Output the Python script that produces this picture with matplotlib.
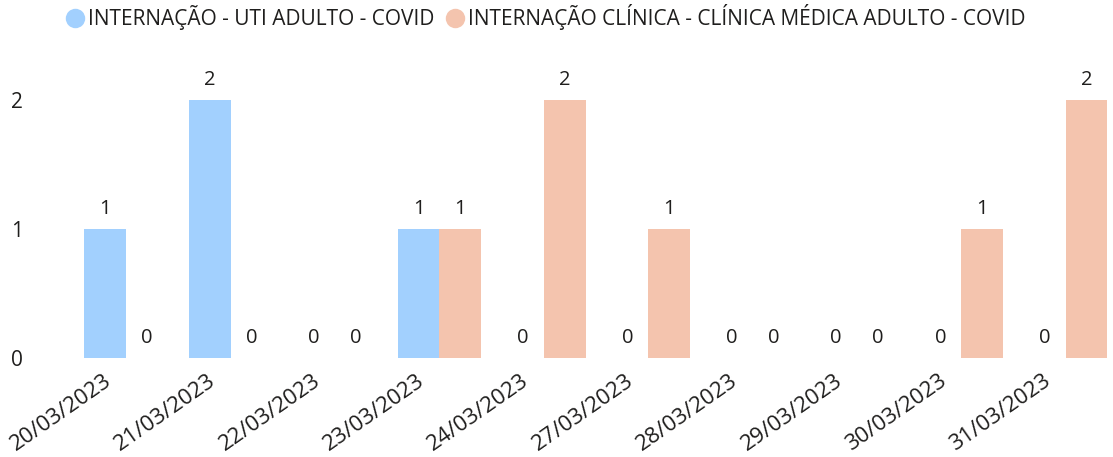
import numpy as np
import matplotlib.pyplot as plt
from matplotlib.lines import Line2D
from matplotlib.transforms import ScaledTranslation

plt.rcParams['font.family'] = ['Open Sans', 'DejaVu Sans']

datas = ['20/03/2023', '21/03/2023', '22/03/2023', '23/03/2023', '24/03/2023',
         '27/03/2023', '28/03/2023', '29/03/2023', '30/03/2023', '31/03/2023']
uti = [1, 2, 0, 1, 0, 0, 0, 0, 0, 0]
clinica = [0, 0, 0, 1, 2, 1, 0, 0, 1, 2]
series_names = ['INTERNAÇÃO - UTI ADULTO - COVID',
                'INTERNAÇÃO CLÍNICA - CLÍNICA MÉDICA ADULTO - COVID']
colors = ['#A2D0FE', '#F4C4AE']
txt = '#1f1e1d'

W, H = 1113, 457
fig = plt.figure(figsize=(W / 100, H / 100), dpi=100)
# axes box in pixels: x 74..1108, y 358 (value 0) .. 100 (value 2)
left, right, bottom, top = 74, 1108, 358, 61
ax = fig.add_axes([left / W, 1 - bottom / H, (right - left) / W, (bottom - top) / H])

x = np.arange(len(datas))
w = 0.4
for i, (vals, c) in enumerate(zip([uti, clinica], colors)):
    pos = x + (i - 0.5) * w
    ax.bar(pos, vals, width=w, color=c, edgecolor='none')
    for p, v in zip(pos, vals):
        ax.annotate(str(v), (p, v), xytext=(0, 7), textcoords='offset points',
                    ha='center', va='bottom', fontsize=14.5, color=txt,
                    annotation_clip=False)

ax.set_xlim(-0.5, 9.405)
ax.set_ylim(0, 2 * (bottom - top) / (bottom - 100))
ax.set_yticks([0, 1, 2])
ax.set_yticklabels(['0', '1', '2'], fontsize=15, color=txt)
ax.tick_params(axis='y', length=0, pad=37)
ax.set_xticks(x)
ax.set_xticklabels(datas, rotation=35, ha='right', va='center',
                   rotation_mode='anchor', fontsize=16, color=txt)
ax.tick_params(axis='x', length=0, pad=15)
shift = ScaledTranslation(-17 / 100, 0, fig.dpi_scale_trans)
for lab in ax.get_xticklabels():
    lab.set_transform(lab.get_transform() + shift)
for s in ax.spines.values():
    s.set_visible(False)

handles = [Line2D([], [], marker='o', linestyle='none', markersize=14,
                  markerfacecolor=c, markeredgecolor='none') for c in colors]
fig.legend(handles, series_names, loc='center', bbox_to_anchor=(545 / W, 1 - 17 / H),
           ncol=2, frameon=False, fontsize=15, handlelength=1.0,
           handletextpad=0.15, columnspacing=0.45, labelcolor=txt,
           borderpad=0, borderaxespad=0)

fig.savefig('out.png', dpi=100)
